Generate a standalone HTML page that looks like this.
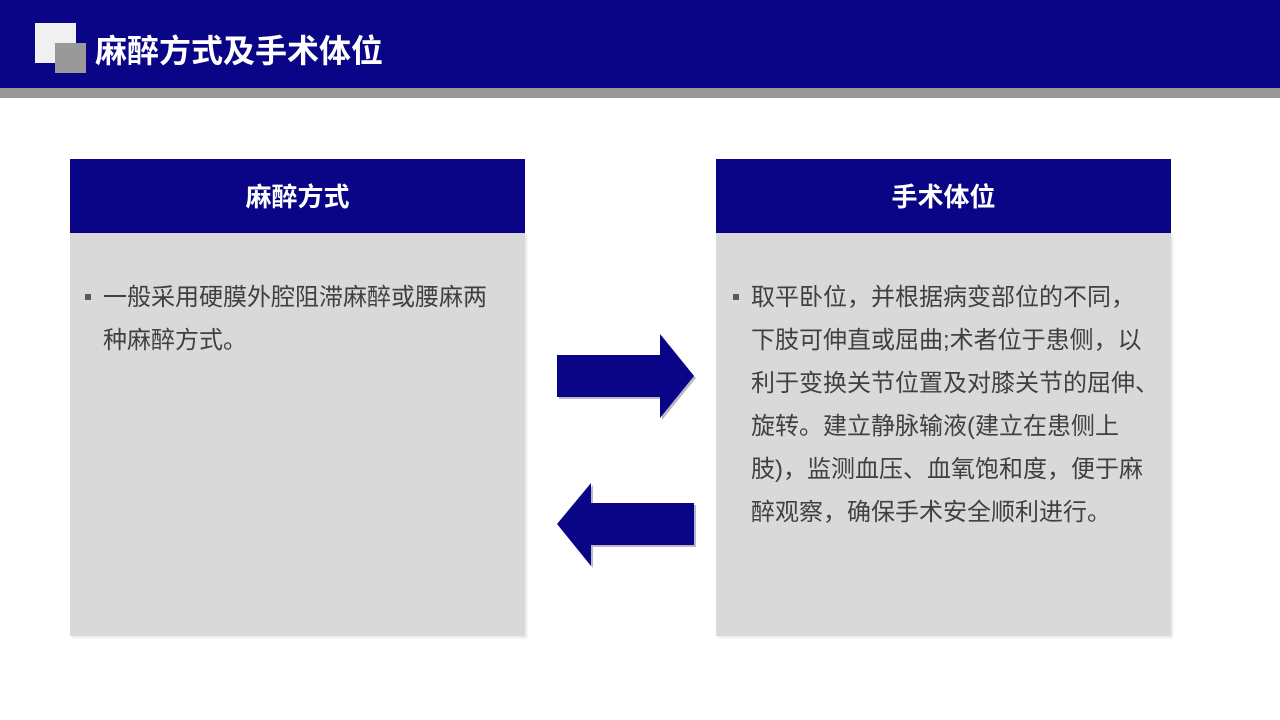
<!DOCTYPE html>
<html><head><meta charset="utf-8"><style>
body{margin:0;width:1280px;height:720px;position:relative;background:#fff;font-family:"Liberation Sans","Noto Sans CJK SC",sans-serif;overflow:hidden}
.hdr{position:absolute;left:0;top:0;width:1280px;height:88px;background:#0a0587}
.gbar{position:absolute;left:0;top:88px;width:1280px;height:10px;background:#999}
.sq1{position:absolute;left:35px;top:23px;width:41px;height:40px;background:#f0f0f0}
.sq2{position:absolute;left:55px;top:43px;width:31px;height:30px;background:#999}
.title{position:absolute;left:95px;top:29px;font-size:32px;font-weight:bold;color:#fff;line-height:44px;white-space:nowrap}
.box{position:absolute;top:233px;width:455px;height:403px;background:#d9d9d9;box-shadow:2px 2px 2px #e8e8f0}
.bh{position:absolute;top:159px;width:455px;height:74px;background:#0a0587;color:#fff;font-weight:bold;font-size:26px;text-align:center;line-height:76px}
.txt{position:absolute;font-size:24px;color:#404040;line-height:43px;white-space:nowrap}
.bul{position:absolute;width:6px;height:6px;background:#595959}
</style></head><body>
<div class="hdr"></div><div class="gbar"></div>
<div class="sq1"></div><div class="sq2"></div>
<div class="title">麻醉方式及手术体位</div>
<div class="box" style="left:70px"></div>
<div class="bh" style="left:70px">麻醉方式</div>
<div class="box" style="left:716px"></div>
<div class="bh" style="left:716px">手术体位</div>
<div class="bul" style="left:85px;top:294px"></div>
<div class="txt" style="left:103px;top:276px">一般采用硬膜外腔阻滞麻醉或腰麻两<br>种麻醉方式。</div>
<div class="bul" style="left:733px;top:294px"></div>
<div class="txt" style="left:751px;top:276px">取平卧位，并根据病变部位的不同，<br>下肢可伸直或屈曲;术者位于患侧，以<br>利于变换关节位置及对膝关节的屈伸、<br>旋转。建立静脉输液(建立在患侧上<br>肢)，监测血压、血氧饱和度，便于麻<br>醉观察，确保手术安全顺利进行。</div>
<svg width="1280" height="720" style="position:absolute;left:0;top:0">
<polygon points="559,357 662,357 662,336 696,378 662,420 662,399 559,399" fill="#b8b8c8"/>
<polygon points="557,355 660,355 660,334 694,376 660,418 660,397 557,397" fill="#0a0587"/>
<polygon points="559,526 593,485 593,505 696,505 696,547 593,547 593,568" fill="#b8b8c8"/>
<polygon points="557,524 591,483 591,503 694,503 694,545 591,545 591,566" fill="#0a0587"/>
</svg>
</body></html>
